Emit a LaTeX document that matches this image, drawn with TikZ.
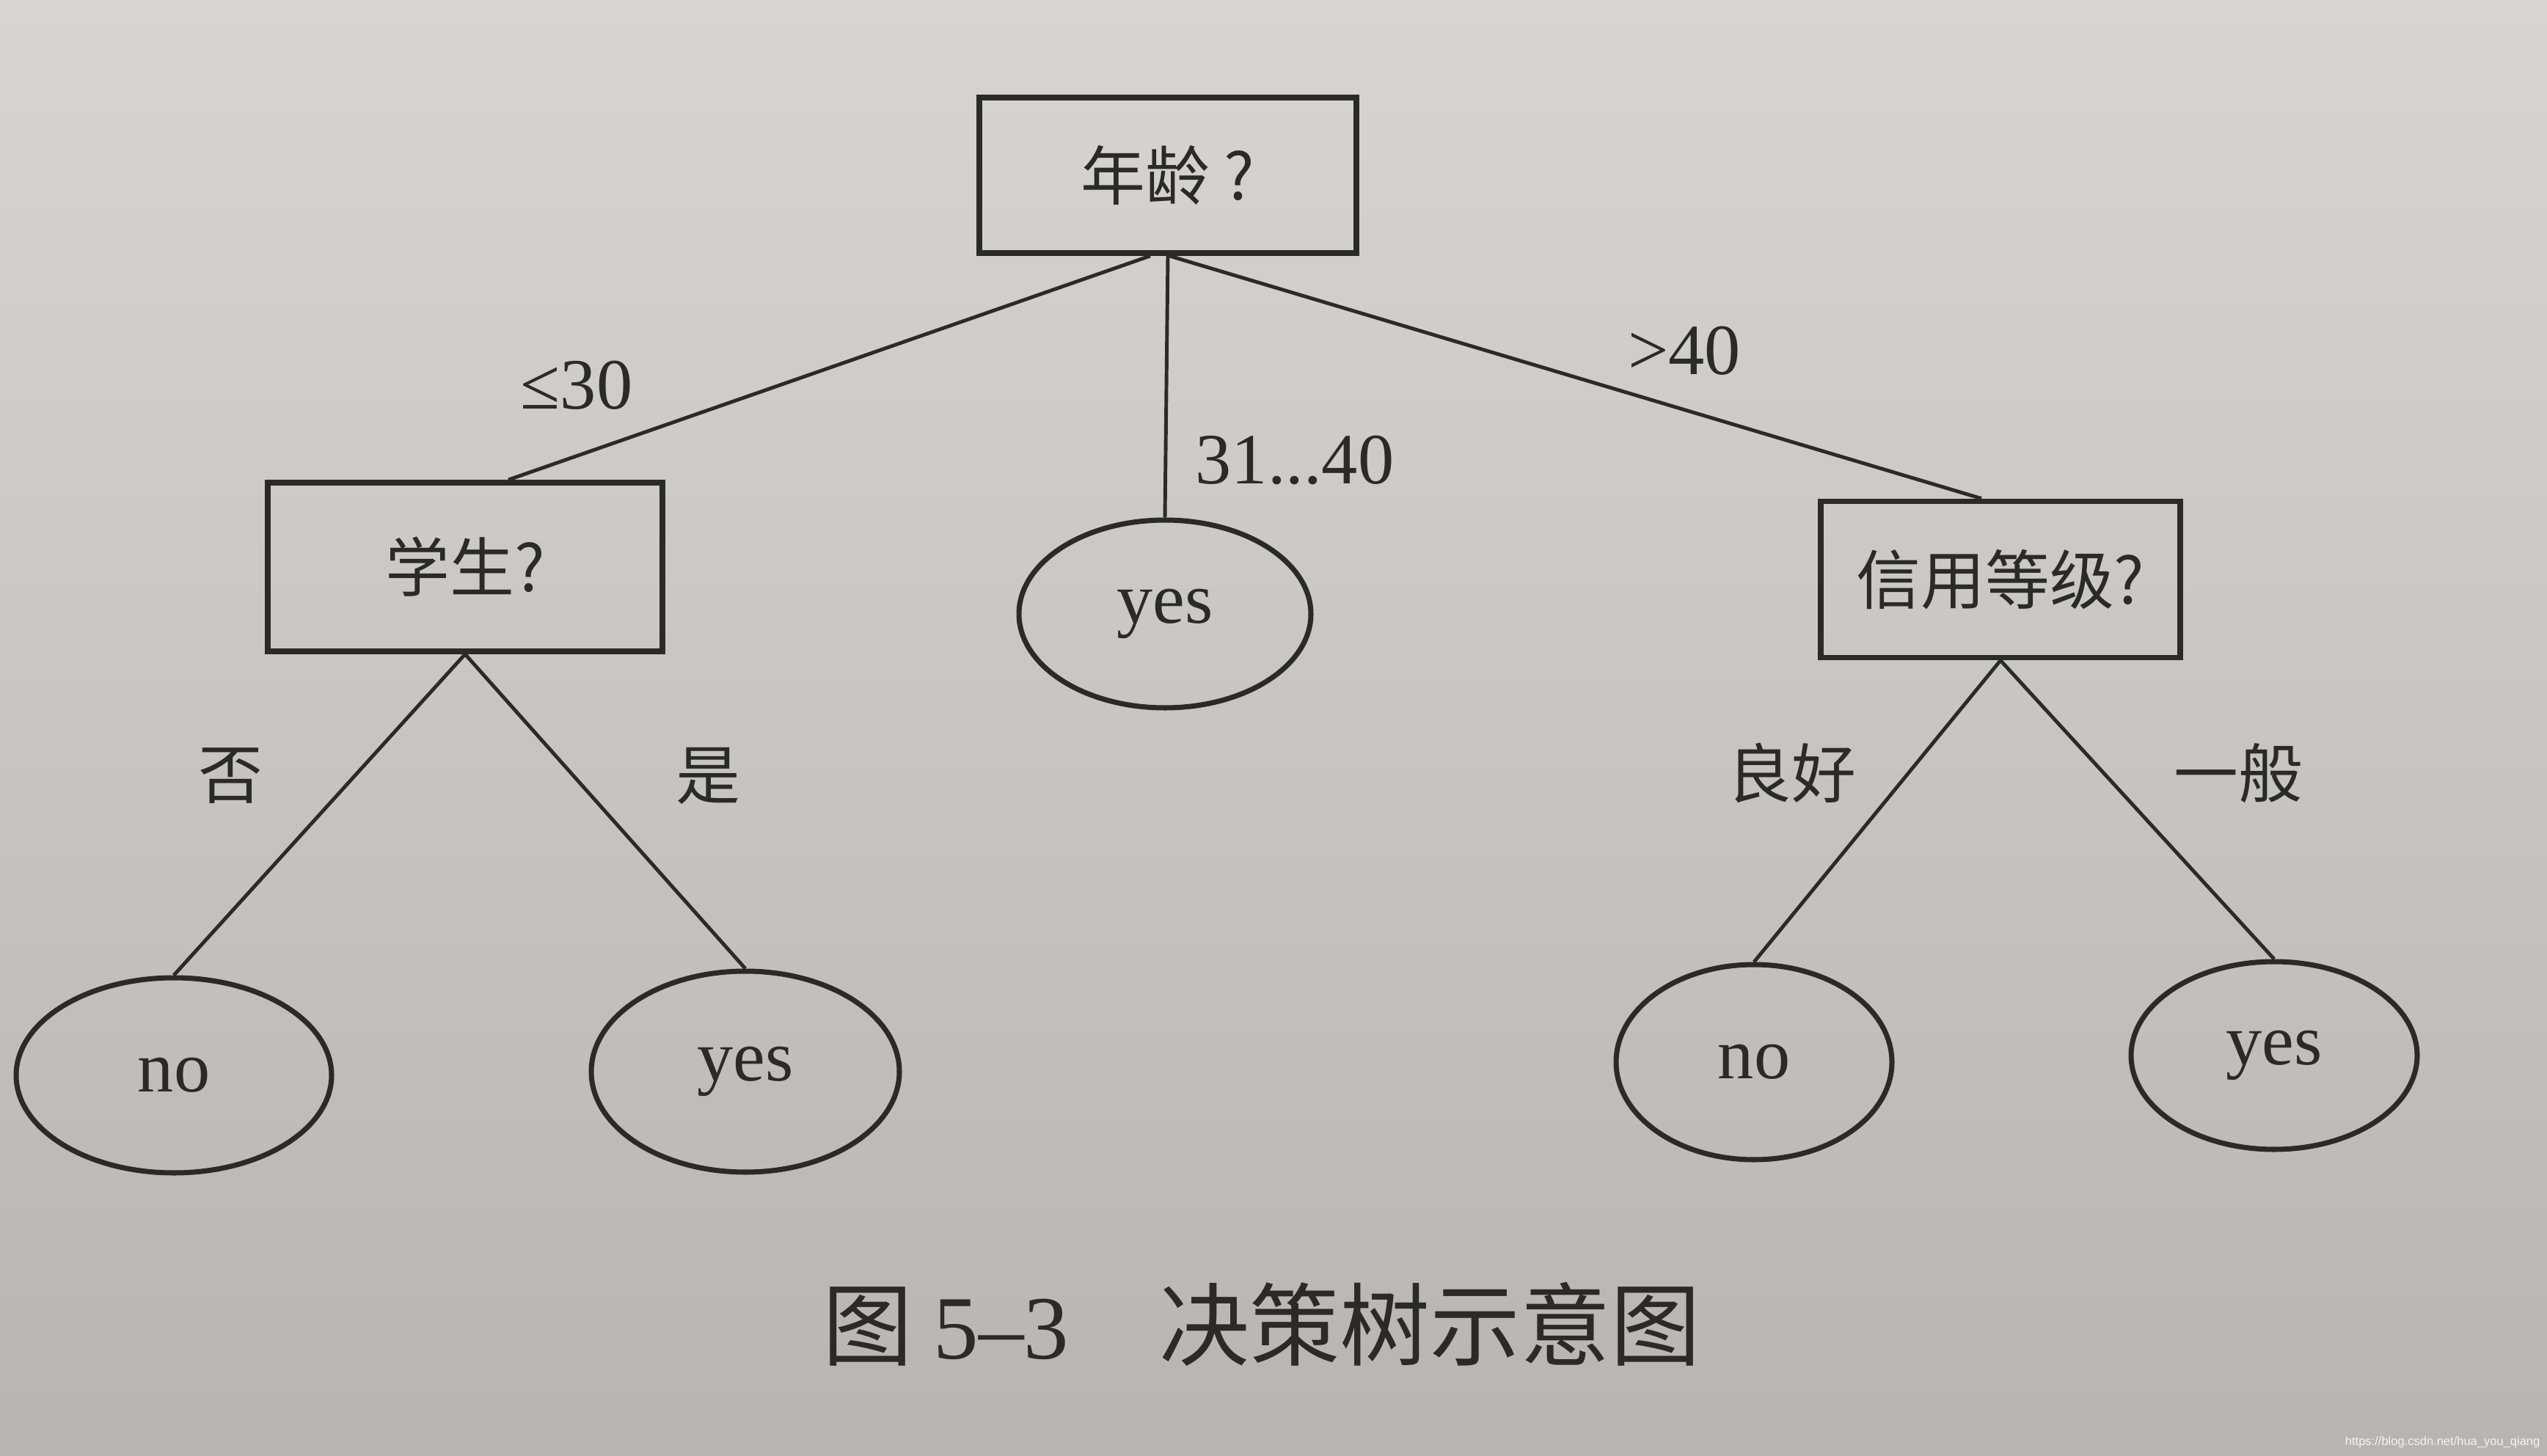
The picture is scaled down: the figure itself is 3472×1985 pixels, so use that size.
\documentclass[tikz,border=0pt]{standalone}
\usepackage{fontspec}
\setmainfont{Liberation Serif}
\newfontfamily\cjk{Noto Sans CJK SC}
\newfontfamily\wm{Liberation Sans}
\usetikzlibrary{shapes.geometric,calc}
\definecolor{paperA}{HTML}{D8D5D1}
\definecolor{paperB}{HTML}{B9B4AF}
\definecolor{ink}{HTML}{2B2A29}
\tikzset{
  boxnode/.style={draw=ink, line width=2.2pt, rectangle, inner sep=0pt, text=ink, font=\cjk\fontsize{25}{25}\selectfont},
  leaf/.style={draw=ink, line width=2.0pt, ellipse, inner sep=0pt, text=ink, font=\fontsize{28}{28}\selectfont},
  edge/.style={draw=ink, line width=1.4pt},
  lbl/.style={text=ink, inner sep=0pt, font=\fontsize{28}{28}\selectfont},
  clbl/.style={text=ink, inner sep=0pt, font=\cjk\fontsize{25}{25}\selectfont}
}
\begin{document}
\begin{tikzpicture}[x=0.1mm,y=-0.1mm]
\shade[top color=paperA, bottom color=paperB] (0,0) rectangle (3472,1985);
\useasboundingbox (0,0) rectangle (3472,1985);

\node[boxnode, minimum width=51.4mm, minimum height=21.2mm] (root) at (1592,239) {年龄 ?};
\node[boxnode, minimum width=53.8mm, minimum height=23mm] (stu) at (634,773) {学生?};
\node[leaf, minimum width=39.8mm, minimum height=25.6mm] (mid) at (1588,837) {yes};
\node[boxnode, minimum width=49mm, minimum height=21.3mm] (cred) at (2727,790) {信用等级?};
\node[leaf, minimum width=43mm, minimum height=26.6mm] (n1) at (237,1466) {no};
\node[leaf, minimum width=42mm, minimum height=27.4mm] (y1) at (1016,1461) {yes};
\node[leaf, minimum width=37.6mm, minimum height=26.6mm] (n2) at (2391,1448) {no};
\node[leaf, minimum width=39mm, minimum height=25.6mm] (y2) at (3100,1439) {yes};

\draw[edge] ([xshift=-2.4mm]root.south) -- ([xshift=5.9mm]stu.north);
\draw[edge] (root.south) -- (mid.north);
\draw[edge] ([xshift=0.2mm]root.south) -- ([xshift=-2.6mm]cred.north);
\draw[edge] (stu.south) -- (n1.north);
\draw[edge] (stu.south) -- (y1.north);
\draw[edge] (cred.south) -- (n2.north);
\draw[edge] (cred.south) -- (y2.north);

\node[lbl] (l1) at (786,525) {≤30};
\node[lbl] (l2) at (1765,627) {31...40};
\node[lbl] (l3) at (2296,478) {>40};
\node[clbl] (l4) at (314,1058) {否};
\node[clbl] (l5) at (965,1058) {是};
\node[clbl] (l6) at (2442,1054) {良好};
\node[clbl] (l7) at (3051,1054) {一般};

\node[text=ink, inner sep=0pt, font=\cjk\fontsize{35}{35}\selectfont] (cap) at (1720,1805) {图 {\rmfamily 5–3}\quad 决策树示意图};
\node[text=white!92!gray, inner sep=0pt, anchor=south east, font=\wm\fontsize{4.7}{6}\selectfont] (wmk) at (3463,1975) {https://blog.csdn.net/hua\_you\_qiang};
\end{tikzpicture}
\end{document}
